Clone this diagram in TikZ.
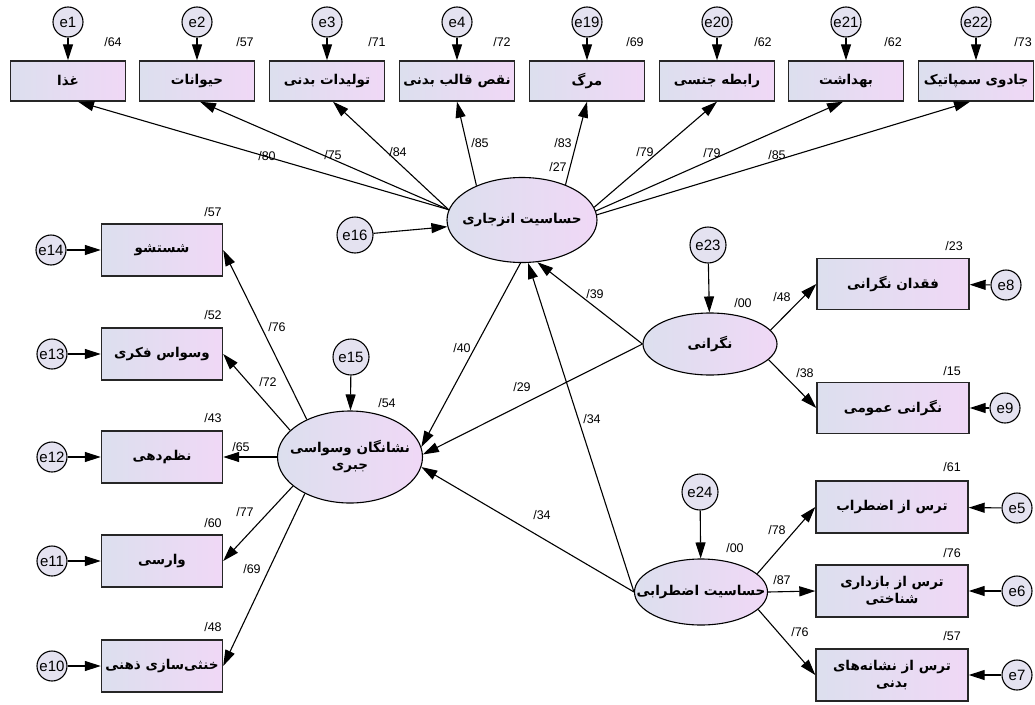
\documentclass[tikz,border=0pt]{standalone}
\usepackage{fontspec}
\setmainfont{Liberation Sans}
\newfontfamily\persianfont[Script=Arabic]{DejaVu Sans}
\TeXXeTstate=1
\usetikzlibrary{positioning, arrows.meta, shapes.geometric}
\definecolor{fillL}{RGB}{220,223,238}
\definecolor{fillR}{RGB}{240,216,246}
\definecolor{errfill}{RGB}{228,226,240}
\newcommand{\fatxt}[1]{{\persianfont\bfseries\beginR #1\endR}}

\begin{document}
\begin{tikzpicture}[
        x=1pt, y=-1pt,
        obsbox/.style={draw=black!85, line width=1.4pt, left color=fillL, right color=fillR, minimum width=115pt, minimum height=40pt, align=center, inner sep=2pt, font=\fontsize{13.5}{17}\selectfont},
        latent/.style={ellipse, draw, line width=1.1pt, left color=fillL, right color=fillR, align=center, inner xsep=-18pt, inner ysep=0pt, font=\fontsize{13.5}{17}\selectfont},
        err/.style={circle, draw, line width=1.1pt, fill=errfill, minimum size=30pt, inner sep=0pt, font=\fontsize{15}{16}\selectfont},
        num/.style={inner sep=1pt, font=\fontsize{12.5}{13}\selectfont},
        link/.style={draw, line width=1.1pt, -{Triangle[length=16pt, width=10pt]}}
    ]
    \useasboundingbox (0,0) rectangle (1035,704);

    % Top row: indicators of disgust sensitivity
    \node[obsbox] (g1) at (68,81) {\fatxt{غذا}};
    \node[obsbox] (g2) at (197,81) {\fatxt{حیوانات}};
    \node[obsbox] (g3) at (327,81) {\fatxt{تولیدات بدنی}};
    \node[obsbox] (g4) at (457,81) {\fatxt{نقص قالب بدنی}};
    \node[obsbox] (g5) at (587,81) {\fatxt{مرگ}};
    \node[obsbox] (g6) at (717,81) {\fatxt{رابطه جنسی}};
    \node[obsbox] (g7) at (846,81) {\fatxt{بهداشت}};
    \node[obsbox] (g8) at (976,81) {\fatxt{جادوی سمپاتیک}};

    \node[err] (e1) at (68,22) {e1};
    \node[err] (e2) at (197,22) {e2};
    \node[err] (e3) at (327,22) {e3};
    \node[err] (e4) at (457,22) {e4};
    \node[err] (e19) at (587,22) {e19};
    \node[err] (e20) at (717,22) {e20};
    \node[err] (e21) at (846,22) {e21};
    \node[err] (e22) at (976,22) {e22};

    % Left column: OCD indicators
    \node[obsbox, minimum width=121pt, minimum height=52pt] (c1) at (162,250) {\fatxt{شستشو}};
    \node[obsbox, minimum width=121pt, minimum height=52pt] (c2) at (162,354) {\fatxt{وسواس فکری}};
    \node[obsbox, minimum width=121pt, minimum height=52pt] (c3) at (162,457) {\fatxt{نظم^^^^200cدهی}};
    \node[obsbox, minimum width=121pt, minimum height=52pt] (c4) at (162,561) {\fatxt{وارسی}};
    \node[obsbox, minimum width=121pt, minimum height=52pt] (c5) at (162,666) {\fatxt{خنثی^^^^200cسازی ذهنی}};

    \node[err] (e14) at (51,250) {e14};
    \node[err] (e13) at (52,354) {e13};
    \node[err] (e12) at (52,457) {e12};
    \node[err] (e11) at (52,561) {e11};
    \node[err] (e10) at (52,666) {e10};

    % Right column: worry and anxiety sensitivity indicators
    \node[obsbox, minimum width=152pt, minimum height=51pt] (w1) at (893,284) {\fatxt{فقدان نگرانی}};
    \node[obsbox, minimum width=152pt, minimum height=51pt] (w2) at (893,408) {\fatxt{نگرانی عمومی}};
    \node[obsbox, minimum width=152pt, minimum height=52pt] (a1) at (892,507) {\fatxt{ترس از اضطراب}};
    \node[obsbox, minimum width=152pt, minimum height=52pt] (a2) at (892,591) {\fatxt{ترس از بازداری}\\\fatxt{شناختی}};
    \node[obsbox, minimum width=152pt, minimum height=52pt] (a3) at (892,675) {\fatxt{ترس از نشانه^^^^200cهای}\\\fatxt{بدنی}};

    \node[err] (e8) at (1006,285) {e8};
    \node[err] (e9) at (1005,408) {e9};
    \node[err] (e5) at (1017,508) {e5};
    \node[err] (e6) at (1017,591) {e6};
    \node[err] (e7) at (1017,675) {e7};

    % Latent variables
    \node[latent, minimum width=150pt, minimum height=85pt] (cent) at (522,220) {\fatxt{حساسیت انزجاری}};
    \node[latent, minimum width=145pt, minimum height=92pt] (obs) at (350,457) {\fatxt{نشانگان وسواسی}\\\fatxt{جبری}};
    \node[latent, minimum width=134pt, minimum height=62pt] (worry) at (710,344) {\fatxt{نگرانی}};
    \node[latent, minimum width=133pt, minimum height=66pt] (anx) at (701,592) {\fatxt{حساسیت اضطرابی}};

    \node[err, minimum size=36pt] (e16) at (355,235) {e16};
    \node[err, minimum size=36pt] (e15) at (351,357) {e15};
    \node[err, minimum size=36pt] (e23) at (708,245) {e23};
    \node[err, minimum size=36pt] (e24) at (700,492) {e24};

    % Error terms
    \draw[link] (e1) -- (g1);
    \draw[link] (e2) -- (g2);
    \draw[link] (e3) -- (g3);
    \draw[link] (e4) -- (g4);
    \draw[link] (e19) -- (g5);
    \draw[link] (e20) -- (g6);
    \draw[link] (e21) -- (g7);
    \draw[link] (e22) -- (g8);
    \draw[link] (e14) -- (c1);
    \draw[link] (e13) -- (c2);
    \draw[link] (e12) -- (c3);
    \draw[link] (e11) -- (c4);
    \draw[link] (e10) -- (c5);
    \draw[link] (e8) -- (w1);
    \draw[link] (e9) -- (w2);
    \draw[link] (e5) -- (a1);
    \draw[link] (e6) -- (a2);
    \draw[link] (e7) -- (a3);
    \draw[link] (e16) -- (cent);
    \draw[link] (e15) -- (obs);
    \draw[link] (e23) -- (worry);
    \draw[link] (e24) -- (anx);

    % Loadings
    \draw[link] (cent.172) -- ([xshift=10pt]g1.south);
    \draw[link] (cent.172) -- ([xshift=3pt]g2.south);
    \draw[link] (cent.172) -- ([xshift=6pt]g3.south);
    \draw[link] (cent.143) -- (g4.south);
    \draw[link] (cent.39) -- (g5.south);
    \draw[link] (cent.10) -- (g6.south);
    \draw[link] (cent.7) -- ([xshift=-3pt]g7.south);
    \draw[link] (cent.4) -- ([xshift=-6pt]g8.south);

    \draw[link] (obs.139) -- (c1.east);
    \draw[link] (obs.156) -- (c2.east);
    \draw[link] (obs.west) -- (c3.east);
    \draw[link] (obs.207) -- (c4.east);
    \draw[link] (obs.219) -- (c5.east);

    \draw[link] (worry.13) -- (w1.west);
    \draw[link] (worry.-15) -- (w2.west);
    \draw[link] (anx.18) -- (a1.west);
    \draw[link] (anx.east) -- (a2.west);
    \draw[link] (anx.-17) -- (a3.west);

    % Structural paths
    \draw[link] (cent.268) -- (obs.8);
    \draw[link] (worry.west) -- (cent.290);
    \draw[link] (worry.west) -- (obs.2);
    \draw[link] (anx.west) -- (cent.278);
    \draw[link] (anx.west) -- (obs.-8);

    % Coefficients
    \node[num] (r1) at (113,42) {/64};
    \node[num] (r2) at (245,42) {/57};
    \node[num] (r3) at (377,42) {/71};
    \node[num] (r4) at (502,42) {/72};
    \node[num] (r5) at (635,42) {/69};
    \node[num] (r6) at (763,42) {/62};
    \node[num] (r7) at (893,42) {/62};
    \node[num] (r8) at (1023,42) {/73};

    \node[num] (p1) at (267,156) {/80};
    \node[num] (p2) at (333,155) {/75};
    \node[num] (p3) at (398,152) {/84};
    \node[num] (p4) at (480,143) {/85};
    \node[num] (p5) at (563,143) {/83};
    \node[num] (rc) at (558,167) {/27};
    \node[num] (p6) at (645,152) {/79};
    \node[num] (p7) at (712,153) {/79};
    \node[num] (p8) at (777,155) {/85};

    \node[num] (r9) at (213,212) {/57};
    \node[num] (r10) at (213,315) {/52};
    \node[num] (r11) at (213,418) {/43};
    \node[num] (r12) at (213,523) {/60};
    \node[num] (r13) at (213,627) {/48};
    \node[num] (p9) at (277,327) {/76};
    \node[num] (p10) at (268,382) {/72};
    \node[num] (p11) at (241,447) {/65};
    \node[num] (p12) at (245,512) {/77};
    \node[num] (p13) at (252,569) {/69};
    \node[num] (ro) at (387,403) {/54};

    \node[num] (s1) at (462,348) {/40};
    \node[num] (s2) at (522,387) {/29};
    \node[num] (s3) at (595,294) {/39};
    \node[num] (s4) at (592,419) {/34};
    \node[num] (s5) at (542,515) {/34};

    \node[num] (rw) at (743,303) {/00};
    \node[num] (p14) at (782,297) {/48};
    \node[num] (r14) at (954,246) {/23};
    \node[num] (p15) at (805,373) {/38};
    \node[num] (r15) at (952,371) {/15};
    \node[num] (r16) at (952,467) {/61};
    \node[num] (p16) at (777,530) {/78};
    \node[num] (ra) at (735,548) {/00};
    \node[num] (p17) at (782,580) {/87};
    \node[num] (r17) at (952,553) {/76};
    \node[num] (p18) at (800,632) {/76};
    \node[num] (r18) at (952,636) {/57};

\end{tikzpicture}
\end{document}
